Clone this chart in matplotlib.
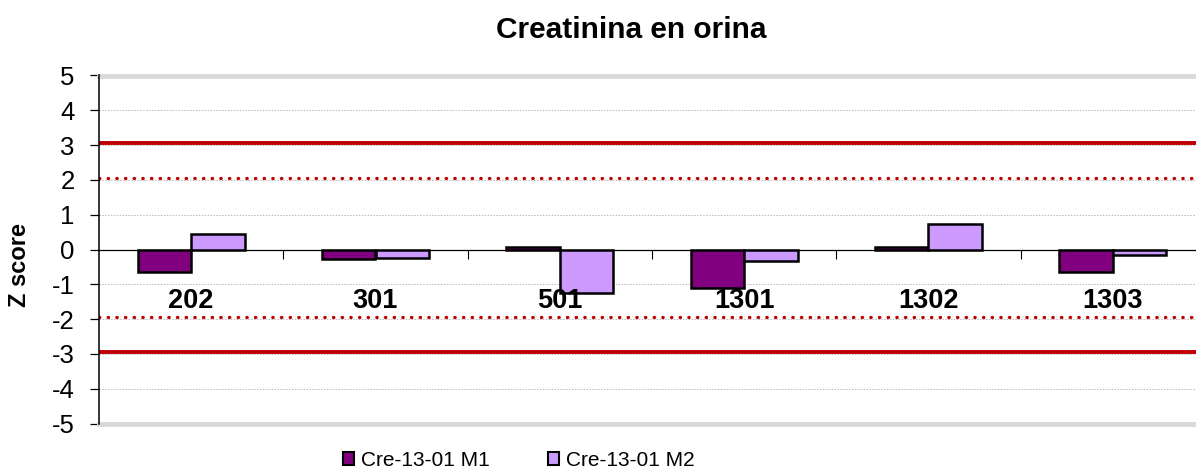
import matplotlib
matplotlib.use('Agg')
import matplotlib.pyplot as plt
import numpy as np
from matplotlib.patches import Patch

plt.rcParams.update({
    'font.family': ['Liberation Sans', 'DejaVu Sans'],
    'font.size': 15,
    'axes.unicode_minus': False,
})

# Data
labs = ['202', '301', '501', '1301', '1302', '1303']
m1 = [-0.64, -0.28, 0.08, -1.12, 0.08, -0.65]
m2 = [0.45, -0.245, -1.25, -0.33, 0.72, -0.17]
series_names = ['Cre-13-01 M1', 'Cre-13-01 M2']
lim_solid = [3.06, -2.94]
lim_dot = [2.05, -1.95]

c_m1 = '#800080'
c_m2 = '#cc99ff'
red = '#c00000'

fig = plt.figure(figsize=(11.96, 4.72), dpi=100)
ax = fig.add_axes([99/1196, 1-423.5/472, 1106/1196, 348/472])

x = np.arange(len(labs))
w = 0.29
ax.bar(x - w/2, m1, width=w, color=c_m1, edgecolor='black', linewidth=1.8, zorder=4)
ax.bar(x + w/2, m2, width=w, color=c_m2, edgecolor='black', linewidth=1.8, zorder=4)

# grid
for yv in range(-4, 5):
    if yv != 0:
        ax.axhline(yv, color='#b8b8b8', ls=(0, (1.5, 1.5)), lw=0.7, zorder=1)
ax.axhline(0, color='black', lw=0.9, zorder=3)

# limits
for yv in lim_solid:
    ax.axhline(yv, color=red, lw=2.8, zorder=2)
for yv in lim_dot:
    ax.axhline(yv, color=red, lw=2.4, ls=(0, (0.1, 2.5)), dash_capstyle='round', zorder=2)

# category separators on the zero line
for b in x[:-1] + 0.5:
    ax.vlines(b, -0.26, 0, color='black', lw=0.8, zorder=3)

for xi, t in zip(x, labs):
    ax.text(xi, -1.68, t, ha='center', va='baseline', fontsize=19.5, fontweight='bold', zorder=5)

ax.set_xlim(-0.5, len(labs) - 0.5)
ax.set_ylim(-5, 5)
ax.set_yticks(range(-5, 6))
ax.set_xticks([])
ax.tick_params(axis='y', length=6.5, width=0.9, pad=11, labelsize=18.5)

for s in ['top', 'bottom', 'right']:
    ax.spines[s].set_color('#d9d9d9')
    ax.spines[s].set_linewidth(3.5)
ax.spines['left'].set_color('black')
ax.spines['left'].set_linewidth(1.1)
ax.spines['left'].set_zorder(6)

fig.text(631/1196, 1-38.3/472, 'Creatinina en orina', ha='center', va='baseline',
         fontsize=21.5, fontweight='bold')
fig.text(19/1196, 1-265/472, 'Z score', rotation=90, ha='center', va='center',
         fontsize=17, fontweight='bold')

handles = [Patch(facecolor=c_m1, edgecolor='black', linewidth=1.5, label=series_names[0]),
           Patch(facecolor=c_m2, edgecolor='black', linewidth=1.5, label=series_names[1])]
fig.legend(handles=handles, ncol=2, frameon=False, loc='center left',
           bbox_to_anchor=(343/1196, 1-460.5/472), borderpad=0, borderaxespad=0,
           handlelength=0.55, handleheight=0.55, handletextpad=0.3, columnspacing=2.8,
           fontsize=15)

fig.savefig('out.png', dpi=100)
